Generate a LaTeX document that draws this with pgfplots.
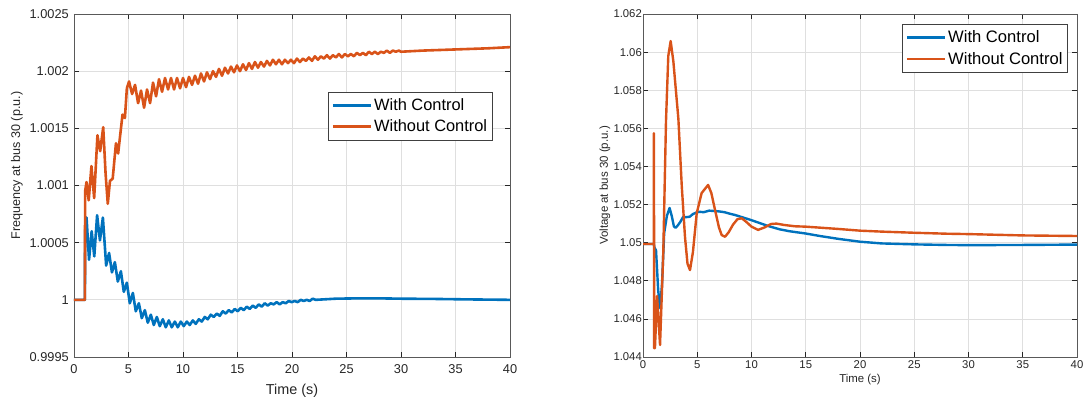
\documentclass[border=0pt]{standalone}
\usepackage{fontspec}
\setmainfont{Liberation Sans}
\usepackage{pgfplots}
\pgfplotsset{compat=1.18}

\definecolor{mblue}{rgb}{0,0.447,0.741}
\definecolor{morange}{rgb}{0.85,0.325,0.098}
\definecolor{mtext}{rgb}{0.15,0.15,0.15}
\definecolor{mgrid}{rgb}{0.875,0.875,0.875}

\pgfplotsset{
  mstyle/.style={
    scale only axis,
    xmin=0, xmax=40,
    xtick={0,5,...,40},
    xticklabels={0,5,10,15,20,25,30,35,40},
    grid=major,
    major grid style={mgrid, line width=0.7pt},
    axis line style={black!65, line width=0.7pt},
    tick align=inside,
    major tick length=5pt,
    tick style={mtext, line width=0.7pt},
    ticklabel style={text=mtext},
    label style={text=mtext},
    legend cell align=left,
    legend image code/.code={\draw[##1] (0pt,0pt) -- (38pt,0pt);},
    legend style={draw=black!75, line width=0.7pt, fill=white,
      inner xsep=3pt, inner ysep=4.5pt, row sep=4pt},
  },
  every axis plot/.append style={line join=round},
}

\begin{document}
\begin{tikzpicture}
\path[use as bounding box] (-74pt,-45pt) rectangle (1009pt,357pt);

% ---------- left: frequency ----------
\begin{axis}[mstyle,
  at={(0pt,0pt)}, anchor=south west,
  width=436pt, height=343pt,
  ymin=0.9995, ymax=1.0025,
  ytick={0.9995,1,1.0005,1.001,1.0015,1.002,1.0025},
  yticklabels={0.9995,1,1.0005,1.001,1.0015,1.002,1.0025},
  scaled y ticks=false,
  ticklabel style={font=\fontsize{12.8}{14}\selectfont},
  xticklabel style={yshift=-4pt},
  yticklabel style={xshift=-1.7pt},
  xlabel={Time (s)},
  ylabel={Frequency at bus 30 (p.u.)},
  xlabel style={font=\fontsize{14.4}{16}\selectfont, at={(axis description cs:0.5,-0.098)}, anchor=center},
  ylabel style={font=\fontsize{12.6}{14}\selectfont, at={(axis description cs:-0.131,0.558)}, anchor=center},
  legend style={at={(0.583,0.773)}, anchor=north west, font=\fontsize{16.4}{19}\selectfont},
]
\addplot[mblue, line width=2.6pt] coordinates {
(0,1.0)(1.0,1.0)(1.02,1.0006)(1.15,1.00072)(1.38,1.00035)(1.62,1.00060)(1.86,1.00038)
(2.12,1.00074)(2.38,1.00052)(2.65,1.00072)(2.95,1.00030)
(3.22,1.00041)(3.48,1.00024)(3.75,1.00033)(4.02,1.00016)(4.3,1.00025)(4.57,1.00007)
(4.85,1.00015)(5.12,0.99997)(5.4,1.00006)(5.67,0.99990)(5.95,0.99997)(6.22,0.99984)
(6.5,0.99991)(6.77,0.99980)(7.05,0.99987)(7.32,0.99978)(7.6,0.99985)(7.87,0.99977)
(8.15,0.99983)(8.42,0.99976)(8.7,0.99982)(8.97,0.99976)(9.25,0.99981)(9.52,0.99976)
(9.8,0.99981)(10.07,0.99977)(10.35,0.99981)(10.62,0.99978)(10.9,0.99982)(11.17,0.99979)
(11.45,0.99983)(11.72,0.99981)(12.0,0.99985)(12.27,0.99983)(12.55,0.99987)(12.82,0.99985)
(13.1,0.99988)(13.37,0.99986)(13.65,0.99990)(13.92,0.99988)(14.2,0.99991)(14.47,0.99989)
(14.75,0.99992)(15.02,0.99990)(15.3,0.99993)(15.57,0.99991)(15.85,0.99994)(16.12,0.99992)
(16.4,0.99995)(16.67,0.99993)(16.95,0.99996)(17.22,0.99994)(17.5,0.99997)(17.77,0.99995)
(18.05,0.99997)(18.32,0.99996)(18.6,0.99998)(18.87,0.99996)(19.15,0.99998)(19.42,0.99997)
(19.7,0.99999)(19.97,0.99998)(20.25,0.99999)(20.52,0.99998)(20.8,1.0)(21.07,0.99999)
(21.35,1.0)(21.62,0.99999)(21.9,1.00001)(22.17,1.0)
(24,1.00001)(26,1.000013)(28,1.000013)(30,1.00001)(33,1.000008)(36,1.000004)(40,1.0)
};
\addlegendentry{With Control}
\addplot[morange, line width=2.6pt] coordinates {
(0,1.0)(1.0,1.0)(1.02,1.00095)(1.15,1.00103)(1.35,1.00087)(1.6,1.00117)(1.85,1.00089)
(2.15,1.00144)(2.4,1.00130)(2.68,1.00151)(2.9,1.00110)(3.1,1.00084)(3.3,1.00104)
(3.55,1.00106)(3.85,1.00137)(4.05,1.00128)(4.45,1.00162)(4.67,1.00159)(4.85,1.00185)
(5.05,1.00191)(5.33,1.00180)(5.6,1.00188)(5.88,1.00172)(6.15,1.00183)(6.43,1.00168)
(6.7,1.00184)(6.98,1.00172)(7.25,1.00190)(7.53,1.00178)(7.8,1.00193)(8.08,1.00182)
(8.35,1.00194)(8.63,1.00184)(8.9,1.00194)(9.18,1.00184)(9.45,1.00194)(9.73,1.00185)
(10.0,1.00194)(10.28,1.00186)(10.55,1.00195)(10.83,1.00188)(11.1,1.00196)(11.38,1.00189)
(11.65,1.00198)(11.93,1.00191)(12.2,1.00199)(12.48,1.00193)(12.75,1.00200)(13.03,1.00195)
(13.3,1.00202)(13.58,1.00196)(13.85,1.00203)(14.13,1.00198)(14.4,1.00204)(14.68,1.00199)
(14.95,1.00205)(15.23,1.00200)(15.5,1.00206)(15.78,1.00201)(16.05,1.00207)(16.33,1.00202)
(16.6,1.00208)(16.88,1.00203)(17.15,1.00208)(17.43,1.00204)(17.7,1.00209)(17.98,1.00205)
(18.25,1.00210)(18.53,1.00206)(18.8,1.00210)(19.08,1.00206)(19.35,1.00210)(19.63,1.00207)
(19.9,1.00210)(20.18,1.00207)(20.45,1.00211)(20.73,1.00208)(21.0,1.00211)(21.28,1.00209)
(21.55,1.00212)(21.83,1.00209)(22.1,1.00213)(22.38,1.00210)(22.65,1.00213)(22.93,1.00211)
(23.2,1.00214)(23.48,1.00211)(23.75,1.00214)(24.03,1.00212)(24.3,1.00215)(24.58,1.00212)
(24.85,1.00215)(25.13,1.00213)(25.4,1.00215)(25.68,1.00213)(25.95,1.00216)(26.23,1.00214)
(26.5,1.00216)(26.78,1.00214)(27.05,1.00217)(27.33,1.00215)(27.6,1.00217)(27.88,1.00215)
(28.15,1.00217)(28.43,1.00216)(28.7,1.00218)(28.98,1.00216)(29.25,1.00218)(29.53,1.00217)
(29.8,1.00218)(30.0,1.00217)(32,1.00218)(35,1.00219)(38,1.00220)(40,1.00221)
};
\addlegendentry{Without Control}
\end{axis}

% ---------- right: voltage ----------
\begin{axis}[mstyle,
  at={(569pt,0pt)}, anchor=south west,
  width=434pt, height=343pt,
  ymin=1.044, ymax=1.062,
  ytick={1.044,1.046,1.048,1.05,1.052,1.054,1.056,1.058,1.06,1.062},
  yticklabels={1.044,1.046,1.048,1.05,1.052,1.054,1.056,1.058,1.06,1.062},
  scaled y ticks=false,
  ticklabel style={font=\fontsize{11.3}{13}\selectfont},
  yticklabel style={inner xsep=1pt},
  xlabel={Time (s)},
  ylabel={Voltage at bus 30 (p.u.)},
  xlabel style={font=\fontsize{11.4}{13}\selectfont, at={(axis description cs:0.5,-0.067)}, anchor=center},
  ylabel style={font=\fontsize{11.5}{13}\selectfont, at={(axis description cs:-0.0876,0.5)}, anchor=center},
  legend style={at={(0.979,0.971)}, anchor=north east, font=\fontsize{16.6}{19}\selectfont},
]
\addplot[mblue, line width=2.4pt] coordinates {
(0,1.04993)(1.0,1.04993)(1.05,1.04975)(1.2,1.0496)(1.4,1.0475)(1.57,1.04656)(1.75,1.0478)
(1.95,1.0505)(2.2,1.0514)(2.45,1.05182)(2.65,1.0514)(2.85,1.05085)(3.0,1.05078)(3.2,1.0509)
(3.45,1.0511)(3.7,1.05135)(4.0,1.05134)(4.3,1.05136)(4.6,1.0515)(4.9,1.05158)(5.2,1.05162)
(5.6,1.0516)(6.1,1.05168)(6.6,1.05166)(7.0,1.05164)(7.5,1.0516)(8.0,1.05152)(8.5,1.05145)
(9.0,1.05136)(10,1.05118)(10.8,1.05102)(11.5,1.05088)(12.6,1.0507)(13.5,1.0506)(15,1.05048)
(16.3,1.05035)(18,1.0502)(20,1.05005)(22,1.04996)(25,1.04991)(28,1.04988)(30,1.04987)
(35,1.04988)(40,1.0499)
};
\addlegendentry{With Control}
\addplot[morange, line width=2.4pt] coordinates {
(0,1.04993)(0.99,1.04993)(1.0,1.05574)(1.01,1.05574)(1.03,1.04446)(1.1,1.04446)(1.3,1.0472)
(1.57,1.04463)(1.87,1.0495)(2.12,1.0564)(2.33,1.0598)(2.55,1.06058)(2.8,1.0595)(3.26,1.0565)
(3.57,1.0530)(3.87,1.0503)(4.1,1.0489)(4.33,1.04856)(4.6,1.0495)(4.95,1.05154)(5.4,1.0526)
(6.0,1.05303)(6.3,1.0526)(6.64,1.05171)(7.0,1.0508)(7.25,1.0504)(7.56,1.05031)(7.9,1.05055)
(8.3,1.05095)(8.7,1.05123)(9.1,1.05128)(9.5,1.0511)(10.0,1.05084)(10.6,1.05067)(11.2,1.0508)
(11.8,1.05098)(12.3,1.05100)(13,1.05093)(14,1.05086)(15,1.05084)(16,1.0508)(18,1.05072)
(20,1.05063)(22,1.05058)(25,1.05052)(28,1.05047)(30,1.05045)(35,1.05038)(40,1.05035)
};
\addlegendentry{Without Control}
\end{axis}
\end{tikzpicture}
\end{document}
